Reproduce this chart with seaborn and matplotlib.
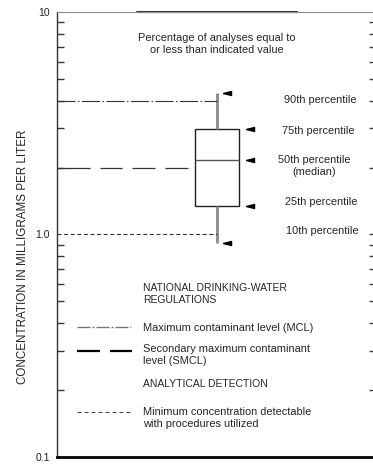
import matplotlib
matplotlib.use("Agg")
import matplotlib.pyplot as plt
import seaborn as sns
import numpy as np

# Percentile values of the concentration distribution (mg/L)
percentile_names = ["10th percentile", "25th percentile", "50th percentile\n(median)",
                    "75th percentile", "90th percentile"]
percentile_values = [0.913, 1.34, 2.16, 2.97, 4.35]

# Regulatory and detection reference levels (mg/L)
mcl_value = 4.0
smcl_value = 2.0
detection_value = 1.0

ytick_values = [0.1, 1.0, 10]
ytick_labels = ["0.1", "1.0", "10"]

sns.set_style("white")
plt.rcParams["font.family"] = ["Liberation Sans", "DejaVu Sans"]
plt.rcParams["lines.scale_dashes"] = False
FS = 7.9     # body text
FS_CAP = 7.5  # upper-case headings and tick labels
LS = 1.28    # line spacing of two-line labels

W, H = 373, 465
PT = 72 / 100  # points per pixel at 100 dpi
fig = plt.figure(figsize=(W / 100, H / 100), dpi=100)
ax = fig.add_axes([57 / W, 1 - 456.5 / H, 1 - 57 / W, (456.5 - 12.3) / H])


def fx(px):
    return px / W


def fy(py):
    return 1 - py / H


def dash(*px):
    return [p * PT for p in px]


# Box: quartiles from the percentile table, whiskers spanning 10th–90th
sns.boxplot(y=percentile_values, whis=(0, 100), width=44 / 316, log_scale=True,
            color="white", linecolor="black", linewidth=1.0, showcaps=False,
            fliersize=0, ax=ax,
            whiskerprops=dict(color="#8a8a8a", linewidth=2.0),
            medianprops=dict(color="#555555", linewidth=1.0),
            boxprops=dict(edgecolor="#222222", linewidth=1.0))

ax.set_xlim(-160 / 316, 156 / 316)
ax.set_ylim(0.1, 10)
ax.set_yscale("log")

# Reference lines running from the axis to the box
yt = ax.get_yaxis_transform()
ax.plot([0, 160 / 316], [mcl_value, mcl_value], transform=yt, color="#333333",
        lw=0.8, dashes=dash(18, 2.5, 1.5, 2.5))
ax.plot([0, 138 / 316], [smcl_value, smcl_value], transform=yt, color="#333333",
        lw=0.9, dashes=dash(33, 10, 22, 10, 23, 10, 23, 20))
ax.plot([0, 160 / 316], [detection_value, detection_value], transform=yt,
        color="#333333", lw=0.8, dashes=dash(4, 2.6))

# Pointer arrows at each percentile
arrow = [(-1, 0), (1, 0.5), (1, -0.5), (-1, 0)]
arrow_x = [10 / 316, 33 / 316, 33 / 316, 33 / 316, 10 / 316]
for xv, yv in zip(arrow_x, percentile_values):
    ax.plot([xv], [yv], marker=arrow, markersize=5.8, color="black", lw=0)

# Percentile labels
label_pos = [(322, 231), (321, 202), (314, 166), (318, 131), (320, 100)]
for name, (px, py) in zip(percentile_names, label_pos):
    fig.text(fx(px), fy(py), name, ha="center", va="center", fontsize=FS,
             linespacing=LS)

fig.text(fx(217), fy(44), "Percentage of analyses equal to\nor less than indicated value",
         ha="center", va="center", fontsize=FS, linespacing=LS)

# Explanation block
fig.text(fx(143), fy(294), "NATIONAL DRINKING-WATER\nREGULATIONS", ha="left",
         va="center", fontsize=FS_CAP, linespacing=LS)
fig.text(fx(143), fy(328), "Maximum contaminant level (MCL)", ha="left",
         va="center", fontsize=FS)
fig.text(fx(143), fy(355), "Secondary maximum contaminant\nlevel (SMCL)", ha="left",
         va="center", fontsize=FS, linespacing=LS)
fig.text(fx(143), fy(384), "ANALYTICAL DETECTION", ha="left", va="center",
         fontsize=FS_CAP)
fig.text(fx(143), fy(418), "Minimum concentration detectable\nwith procedures utilized",
         ha="left", va="center", fontsize=FS, linespacing=LS)

fig.add_artist(plt.Line2D([fx(77), fx(131)], [fy(327), fy(327)], color="#777777",
                          lw=1.0, dashes=dash(13, 2, 2, 2)))
fig.add_artist(plt.Line2D([fx(77), fx(132)], [fy(351), fy(351)], color="black",
                          lw=1.6, dashes=dash(23, 10)))
fig.add_artist(plt.Line2D([fx(77), fx(132)], [fy(412), fy(412)], color="#444444",
                          lw=0.8, dashes=dash(4, 3)))

fig.text(fx(23), fy(257), "CONCENTRATION IN MILLIGRAMS PER LITER", rotation=90,
         ha="center", va="center", fontsize=8.4)

# Axes frame
ax.spines["right"].set_visible(False)
ax.spines["left"].set_color("#333333")
ax.spines["left"].set_linewidth(1.0)
ax.spines["bottom"].set_color("black")
ax.spines["bottom"].set_linewidth(2.0)
ax.spines["top"].set_color("#8a8a8a")
ax.spines["top"].set_linewidth(0.8)
ax.plot([80 / 316, 240 / 316], [1, 1], transform=ax.transAxes, color="#333333",
        lw=1.5, clip_on=False)

ax.set_xticks([])
ax.set_xlabel("")
ax.set_ylabel("")
ax.set_yticks(ytick_values)
ax.set_yticklabels(ytick_labels, fontsize=FS_CAP)
ax.yaxis.set_minor_locator(matplotlib.ticker.LogLocator(base=10, subs=np.arange(2, 10)))
ax.yaxis.set_minor_formatter(matplotlib.ticker.NullFormatter())
ax.tick_params(axis="y", which="major", left=True, right=False, length=0, pad=5,
               colors="#222222")
ax.tick_params(axis="y", which="minor", left=True, right=False, direction="in",
               length=7 * PT, width=1.0, color="#333333")

# Short inward ticks along the right edge
ax2 = ax.twinx()
ax2.set_yscale("log")
ax2.set_ylim(0.1, 10)
for s in ax2.spines.values():
    s.set_visible(False)
ax2.set_yticks([1.0])
ax2.yaxis.set_minor_locator(matplotlib.ticker.LogLocator(base=10, subs=np.arange(2, 10)))
ax2.yaxis.set_minor_formatter(matplotlib.ticker.NullFormatter())
ax2.tick_params(axis="y", which="both", right=True, left=False, labelright=False,
                direction="in", length=4 * PT, width=1.0, color="#444444")

fig.savefig("out.png", dpi=100)
